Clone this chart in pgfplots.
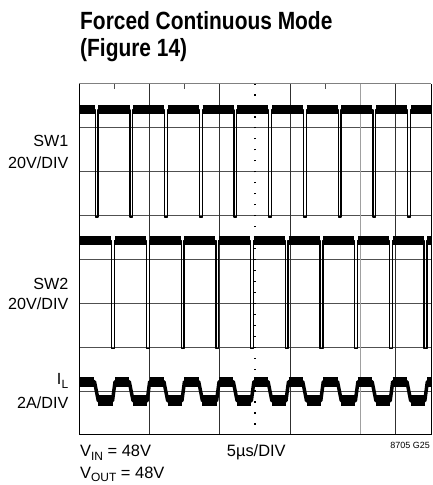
\documentclass[border=0pt]{standalone}
\usepackage{fontspec}
\setmainfont{Liberation Sans}
\newfontfamily\titlefont[FakeStretch=0.84]{Liberation Sans}
\usepackage{pgfplots}
\pgfplotsset{compat=1.18}

\definecolor{hgrid}{HTML}{505050}
\definecolor{vgrid}{HTML}{303030}
\definecolor{lgrid}{HTML}{A0A0A0}

\newcommand{\sub}[1]{\raisebox{-3.5bp}{\fontsize{12}{12}\selectfont #1}}

\begin{document}
\begin{tikzpicture}
\begin{axis}[
  scale only axis, width=352bp, height=351bp,
  xmin=0, xmax=25, ymin=0, ymax=8,
  xtick=\empty, ytick=\empty,
  axis line style={draw=none},
  unbounded coords=jump,
  clip=true,
]
% scope graticule
\pgfplotsinvokeforeach{1,...,7}{\draw[hgrid, line width=0.9bp] (axis cs:0,#1) -- (axis cs:25,#1);}
\pgfplotsinvokeforeach{5,10,15,22.5}{\draw[vgrid, line width=0.9bp] (axis cs:#1,0) -- (axis cs:#1,8);}
\draw[lgrid, line width=1bp] (axis cs:20,0) -- (axis cs:20,8);
\draw[black, line width=1.3bp, dash pattern=on 1.3bp off 9.67bp, dash phase=0.65bp] (axis cs:12.5,0) -- (axis cs:12.5,8);

% SW1 (20V/DIV)
\addplot[black, line width=1.3bp, line join=round] coordinates {
 (0,7.41) (1.15,7.41) (1.15,4.97) (1.35,4.97) (1.35,7.41)
 (3.62,7.41) (3.62,4.97) (3.82,4.97) (3.82,7.41)
 (6.08,7.41) (6.08,4.97) (6.28,4.97) (6.28,7.41)
 (8.55,7.41) (8.55,4.97) (8.75,4.97) (8.75,7.41)
 (11.01,7.41) (11.01,4.97) (11.21,4.97) (11.21,7.41)
 (13.48,7.41) (13.48,4.97) (13.68,4.97) (13.68,7.41)
 (15.94,7.41) (15.94,4.97) (16.14,4.97) (16.14,7.41)
 (18.41,7.41) (18.41,4.97) (18.61,4.97) (18.61,7.41)
 (20.87,7.41) (20.87,4.97) (21.07,4.97) (21.07,7.41)
 (23.34,7.41) (23.34,4.97) (23.54,4.97) (23.54,7.41)
 (25,7.41)};
\addplot[black, line width=9bp] coordinates {
 (0,7.41) (1.12,7.41) (1.2,nan) (1.38,7.41) (3.59,7.41) (3.7,nan)
 (3.85,7.41) (6.05,7.41) (6.1,nan) (6.31,7.41) (8.52,7.41) (8.6,nan)
 (8.78,7.41) (10.98,7.41) (11.1,nan) (11.24,7.41) (13.45,7.41) (13.5,nan)
 (13.71,7.41) (15.91,7.41) (16,nan) (16.17,7.41) (18.38,7.41) (18.5,nan)
 (18.64,7.41) (20.84,7.41) (20.9,nan) (21.10,7.41) (23.31,7.41) (23.4,nan)
 (23.57,7.41) (25,7.41)};

% SW2 (20V/DIV)
\addplot[black, line width=1.3bp, line join=round] coordinates {
 (0,1.97) (0.05,1.97) (0.05,4.44)
 (2.33,4.44) (2.33,1.97) (2.53,1.97) (2.53,4.44)
 (4.79,4.44) (4.79,1.97) (4.99,1.97) (4.99,4.44)
 (7.26,4.44) (7.26,1.97) (7.46,1.97) (7.46,4.44)
 (9.72,4.44) (9.72,1.97) (9.92,1.97) (9.92,4.44)
 (12.19,4.44) (12.19,1.97) (12.39,1.97) (12.39,4.44)
 (14.65,4.44) (14.65,1.97) (14.85,1.97) (14.85,4.44)
 (17.12,4.44) (17.12,1.97) (17.32,1.97) (17.32,4.44)
 (19.58,4.44) (19.58,1.97) (19.78,1.97) (19.78,4.44)
 (22.05,4.44) (22.05,1.97) (22.25,1.97) (22.25,4.44)
 (24.51,4.44) (24.51,1.97) (24.71,1.97) (24.71,4.44)
 (25,4.44)};
\addplot[black, line width=9bp] coordinates {
 (0.08,4.44) (2.30,4.44) (2.4,nan) (2.56,4.44) (4.76,4.44) (4.9,nan)
 (5.02,4.44) (7.23,4.44) (7.3,nan) (7.49,4.44) (9.69,4.44) (9.8,nan)
 (9.95,4.44) (12.16,4.44) (12.3,nan) (12.42,4.44) (14.62,4.44) (14.7,nan)
 (14.88,4.44) (17.09,4.44) (17.2,nan) (17.35,4.44) (19.55,4.44) (19.7,nan)
 (19.81,4.44) (22.02,4.44) (22.1,nan) (22.28,4.44) (24.48,4.44) (24.6,nan)
 (24.74,4.44) (25,4.44)};

% IL (2A/DIV)
\addplot[black, line width=3.5bp, line join=round] coordinates {
 (0,1.215) (1.10,1.215) (1.37,0.78) (2.38,0.78) (2.56,1.215)
 (3.57,1.215) (3.84,0.78) (4.84,0.78) (5.02,1.215)
 (6.03,1.215) (6.30,0.78) (7.31,0.78) (7.49,1.215)
 (8.50,1.215) (8.77,0.78) (9.77,0.78) (9.95,1.215)
 (10.96,1.215) (11.23,0.78) (12.24,0.78) (12.42,1.215)
 (13.43,1.215) (13.70,0.78) (14.70,0.78) (14.88,1.215)
 (15.89,1.215) (16.16,0.78) (17.17,0.78) (17.35,1.215)
 (18.36,1.215) (18.63,0.78) (19.63,0.78) (19.81,1.215)
 (20.82,1.215) (21.09,0.78) (22.10,0.78) (22.28,1.215)
 (23.29,1.215) (23.56,0.78) (24.56,0.78) (24.74,1.215)
 (25,1.215)};
\addplot[black, line width=10bp] coordinates {
 (0,1.215) (1.10,1.215) (1.2,nan) (2.56,1.215) (3.57,1.215) (3.7,nan)
 (5.02,1.215) (6.03,1.215) (6.1,nan) (7.49,1.215) (8.50,1.215) (8.6,nan)
 (9.95,1.215) (10.96,1.215) (11.1,nan) (12.42,1.215) (13.43,1.215) (13.5,nan)
 (14.88,1.215) (15.89,1.215) (16,nan) (17.35,1.215) (18.36,1.215) (18.5,nan)
 (19.81,1.215) (20.82,1.215) (20.9,nan) (22.28,1.215) (23.29,1.215) (23.4,nan)
 (24.74,1.215) (25,1.215)};
\addplot[black, line width=11bp] coordinates {
 (1.37,0.78) (2.38,0.78) (2.5,nan) (3.84,0.78) (4.84,0.78) (4.9,nan)
 (6.30,0.78) (7.31,0.78) (7.4,nan) (8.77,0.78) (9.77,0.78) (9.9,nan)
 (11.23,0.78) (12.24,0.78) (12.3,nan) (13.70,0.78) (14.70,0.78) (14.8,nan)
 (16.16,0.78) (17.17,0.78) (17.3,nan) (18.63,0.78) (19.63,0.78) (19.7,nan)
 (21.09,0.78) (22.10,0.78) (22.2,nan) (23.56,0.78) (24.56,0.78)};
\end{axis}

\begin{scope}[shift={(current axis.south west)}, x=1bp, y=1bp]
\path (-79,-50) rectangle (353,435);
% frame
\draw[black, line width=1bp] (0,351) -- (0,0) -- (352,0) -- (352,351);
\draw[lgrid!80!black, line width=1bp] (0,351) -- (352,351);
\foreach \tx in {35.2,105.6,246.4}{\draw[hgrid, line width=0.8bp] (\tx,351) -- (\tx,346);}

% title
\node[anchor=base west, inner sep=0, font=\titlefont\bfseries\fontsize{25}{30}\selectfont] at (1,405) {Forced Continuous Mode};
\node[anchor=base west, inner sep=0, font=\titlefont\bfseries\fontsize{25}{30}\selectfont] at (1,378.3) {(Figure 14)};

% channel labels
\begin{scope}[every node/.style={anchor=base east, inner sep=0, font=\fontsize{16.2}{19}\selectfont}]
\node at (-10.5,288.3) {SW1};
\node at (-10.5,266.7) {20V/DIV};
\node at (-10.5,145) {SW2};
\node at (-10.5,125.7) {20V/DIV};
\node at (-10.5,50) {I\kern0.3bp\sub{L}};
\node at (-10.5,26.7) {2A/DIV};
\end{scope}

% bottom notes
\begin{scope}[every node/.style={anchor=base west, inner sep=0, font=\fontsize{16.5}{19}\selectfont}]
\node at (1,-21.7) {V\sub{IN} = 48V};
\node at (1,-43.2) {V\sub{OUT} = 48V};
\node at (147.7,-21.7) {5µs/DIV};
\end{scope}
\node[anchor=base east, inner sep=0, font=\fontsize{9}{10}\selectfont] at (351,-13) {8705 G25};
\end{scope}
\end{tikzpicture}
\end{document}
